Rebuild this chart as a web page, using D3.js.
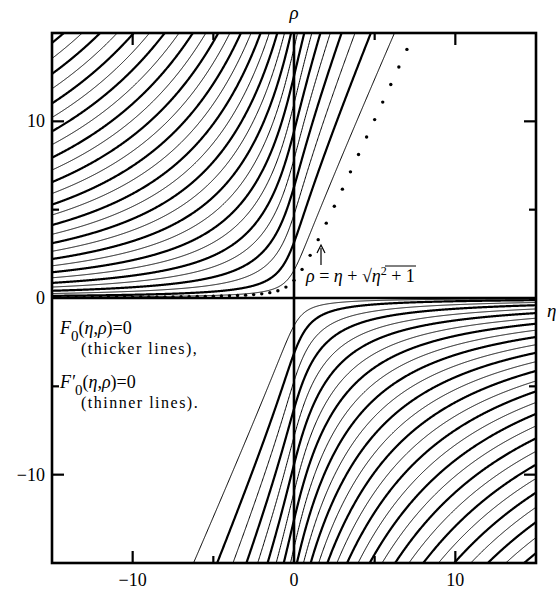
<!DOCTYPE html>
<html><head><meta charset="utf-8">
<script src="https://cdn.jsdelivr.net/npm/d3@7"></script>
<style>
body{margin:0;background:#fff}
svg{display:block}
text{font-family:"Liberation Serif","DejaVu Serif",serif;fill:#000}
</style>
</head><body>
<svg id="c" width="556" height="590"></svg>
<script>
// ---- data ----
const etaDomain = [-15, 15];
const rhoDomain = [-15, 15];
const majorTicks = [-10, 0, 10];
const majorTickLabels = ["\u221210", "0", "10"];
const minorTicks = [-5, 5];
// zero indices of F0 (thick) and F0' (thin) drawn
const f0ZeroIndex  = [1,2,3,4,5,6,7,8,9,10,11,12,13,14,15,16,17,18];
const f0pZeroIndex = [1,2,3,4,5,6,7,8,9,10,11,12,13,14,15,16,17,18];
// dotted curve rho = eta + sqrt(eta^2+1), dots
const dotEta = [-15,-14.5,-14,-13.5,-13,-12.5,-12,-11.5,-11,-10.5,-10,-9.5,-9,-8.5,-8,-7.5,-7,-6.5,-6,-5.5,-5,-4.5,-4,-3.5,-3,-2.5,-2,-1.5,-1,-0.5,0,0.5,1,1.5,2,2.5,3,3.5,4,4.5,5,5.5,6,6.5,7];
const dotRho = [0.033,0.034,0.036,0.037,0.038,0.040,0.042,0.043,0.045,0.048,0.050,0.053,0.055,0.059,0.062,0.066,0.071,0.077,0.083,0.090,0.099,0.110,0.123,0.140,0.162,0.193,0.236,0.303,0.414,0.618,1.0,1.618,2.414,3.303,4.236,5.193,6.162,7.140,8.123,9.110,10.099,11.090,12.083,13.077,14.071];

// ---- layout ----
const svg = d3.select("#c");
const x = d3.scaleLinear().domain(etaDomain).range([52, 536]);
const y = d3.scaleLinear().domain(rhoDomain).range([563, 33]);

// ---- zero curves of the regular Coulomb function F0(eta,rho) and its derivative ----
function zerosAt(eta, rmax) {
  const fz = [], pz = [];
  let r = 1e-4;
  const A0 = 1, A1 = eta, A2 = (2*eta*A1 - A0)/6, A3 = (2*eta*A2 - A1)/12;
  let u = A0*r + A1*r*r + A2*r**3 + A3*r**4;
  let v = A0 + 2*A1*r + 3*A2*r*r + 4*A3*r**3;
  const acc = (rr, uu) => (2*eta/rr - 1)*uu;
  while (r < rmax) {
    const q = Math.sqrt(1 + 2*Math.abs(eta)/r);
    const h = Math.min(0.01, 0.03/q, 0.1*r);
    const k1u = v, k1v = acc(r, u);
    const k2u = v + 0.5*h*k1v, k2v = acc(r + 0.5*h, u + 0.5*h*k1u);
    const k3u = v + 0.5*h*k2v, k3v = acc(r + 0.5*h, u + 0.5*h*k2u);
    const k4u = v + h*k3v, k4v = acc(r + h, u + h*k3u);
    const un = u + h/6*(k1u + 2*k2u + 2*k3u + k4u);
    const vn = v + h/6*(k1v + 2*k2v + 2*k3v + k4v);
    if (u*un < 0) fz.push(r + h*u/(u - un));
    if (v*vn < 0) pz.push(r + h*v/(v - vn));
    r += h; u = un; v = vn;
    const m = Math.abs(u) + Math.abs(v);
    if (m > 1e100) { u /= m; v /= m; }
  }
  return {fz, pz};
}
const etaGrid = d3.range(0, 1201).map(i => etaDomain[0] + i*(etaDomain[1]-etaDomain[0])/1200);
const sols = etaGrid.map(e => zerosAt(e, 15.6));
function curvePts(fam, k) {
  const out = [];
  etaGrid.forEach((e, i) => { const r = sols[i][fam][k-1]; if (r !== undefined) out.push([e, r]); });
  return out;
}

svg.append("defs").append("clipPath").attr("id", "clip")
  .append("rect").attr("x", x(etaDomain[0])).attr("y", y(rhoDomain[1]))
  .attr("width", x(etaDomain[1]) - x(etaDomain[0])).attr("height", y(rhoDomain[0]) - y(rhoDomain[1]));

const line = d3.line().x(d => x(d[0])).y(d => y(d[1]));
const gC = svg.append("g").attr("clip-path", "url(#clip)");

function drawFamily(fam, idx, width) {
  idx.forEach(k => {
    const pts = curvePts(fam, k);
    if (pts.length < 2) return;
    gC.append("path").attr("d", line(pts)).attr("fill", "none").attr("stroke", "#000").attr("stroke-width", width);
    gC.append("path").attr("d", line(pts.map(p => [-p[0], -p[1]]))).attr("fill", "none").attr("stroke", "#000").attr("stroke-width", width);
  });
}
drawFamily("pz", f0pZeroIndex, 1.0);
drawFamily("fz", f0ZeroIndex, 2.2);

// axis lines through origin
gC.append("line").attr("x1", x(etaDomain[0])).attr("x2", x(etaDomain[1])).attr("y1", y(0)).attr("y2", y(0)).attr("stroke", "#000").attr("stroke-width", 2.6);
gC.append("line").attr("x1", x(0)).attr("x2", x(0)).attr("y1", y(rhoDomain[0])).attr("y2", y(rhoDomain[1])).attr("stroke", "#000").attr("stroke-width", 2.6);

// dots
gC.selectAll("circle.dot").data(dotEta.map((e, i) => [e, dotRho[i]])).enter().append("circle")
  .attr("cx", d => x(d[0])).attr("cy", d => y(d[1])).attr("r", 1.7).attr("fill", "#000");

// frame
svg.append("rect").attr("x", x(etaDomain[0])).attr("y", y(rhoDomain[1]))
  .attr("width", x(etaDomain[1]) - x(etaDomain[0])).attr("height", y(rhoDomain[0]) - y(rhoDomain[1]))
  .attr("fill", "none").attr("stroke", "#000").attr("stroke-width", 2.6);

// ticks (inward, all four sides)
const tk = svg.append("g").attr("stroke", "#000").attr("stroke-width", 2.2);
function ticks(vals, len) {
  vals.forEach(t => {
    if (t === 0) return;
    tk.append("line").attr("x1", x(t)).attr("x2", x(t)).attr("y1", y(rhoDomain[0])).attr("y2", y(rhoDomain[0]) - len);
    tk.append("line").attr("x1", x(t)).attr("x2", x(t)).attr("y1", y(rhoDomain[1])).attr("y2", y(rhoDomain[1]) + len);
    tk.append("line").attr("y1", y(t)).attr("y2", y(t)).attr("x1", x(etaDomain[0])).attr("x2", x(etaDomain[0]) + len);
    tk.append("line").attr("y1", y(t)).attr("y2", y(t)).attr("x1", x(etaDomain[1])).attr("x2", x(etaDomain[1]) - len);
  });
}
ticks(majorTicks, 12);
ticks(minorTicks, 7);

// tick labels
majorTicks.forEach((t, i) => {
  svg.append("text").attr("x", x(t)).attr("y", 586).attr("text-anchor", "middle").attr("font-size", 18).text(majorTickLabels[i]);
  svg.append("text").attr("x", 45).attr("y", y(t) + 6).attr("text-anchor", "end").attr("font-size", 18).text(majorTickLabels[i]);
});

// axis titles
svg.append("text").attr("x", x(0)).attr("y", 19).attr("text-anchor", "middle").attr("font-size", 19).attr("font-style", "italic").text("\u03C1");
svg.append("text").attr("x", 547).attr("y", 317).attr("font-size", 19).attr("font-style", "italic").text("\u03B7");

// legend text
function fLabel(xp, yp, prime) {
  const t = svg.append("text").attr("x", xp).attr("y", yp).attr("font-size", 18);
  t.append("tspan").attr("font-style", "italic").text(prime ? "F\u2032" : "F");
  t.append("tspan").attr("dy", 7).attr("font-size", 15).text("0");
  t.append("tspan").attr("dy", -7).text("(");
  t.append("tspan").attr("font-style", "italic").text("\u03B7");
  t.append("tspan").text(",");
  t.append("tspan").attr("font-style", "italic").text("\u03C1");
  t.append("tspan").text(")=0");
}
fLabel(60, 334, false);
svg.append("text").attr("x", 81).attr("y", 354).attr("font-size", 16).attr("letter-spacing", 1.5).text("(thicker lines),");
fLabel(60, 388, true);
svg.append("text").attr("x", 81).attr("y", 408).attr("font-size", 16).attr("letter-spacing", 1.5).text("(thinner lines).");

// formula label
const ft = svg.append("text").attr("x", 306).attr("y", 282).attr("font-size", 18);
ft.append("tspan").attr("font-style", "italic").text("\u03C1");
ft.append("tspan").text(" = ");
ft.append("tspan").attr("font-style", "italic").text("\u03B7");
ft.append("tspan").text(" + \u221A");
ft.append("tspan").attr("font-style", "italic").text("\u03B7");
ft.append("tspan").attr("dy", -7).attr("font-size", 12).text("2");
ft.append("tspan").attr("dy", 7).text(" + 1");
svg.append("line").attr("x1", 385).attr("x2", 416).attr("y1", 266).attr("y2", 266).attr("stroke", "#000").attr("stroke-width", 1);
// arrow
svg.append("line").attr("x1", 321).attr("x2", 321).attr("y1", 265).attr("y2", 248).attr("stroke", "#000").attr("stroke-width", 1.2);
svg.append("path").attr("d", "M317,253 L321,245 L325,253").attr("fill", "none").attr("stroke", "#000").attr("stroke-width", 1.2);
</script>
</body></html>
